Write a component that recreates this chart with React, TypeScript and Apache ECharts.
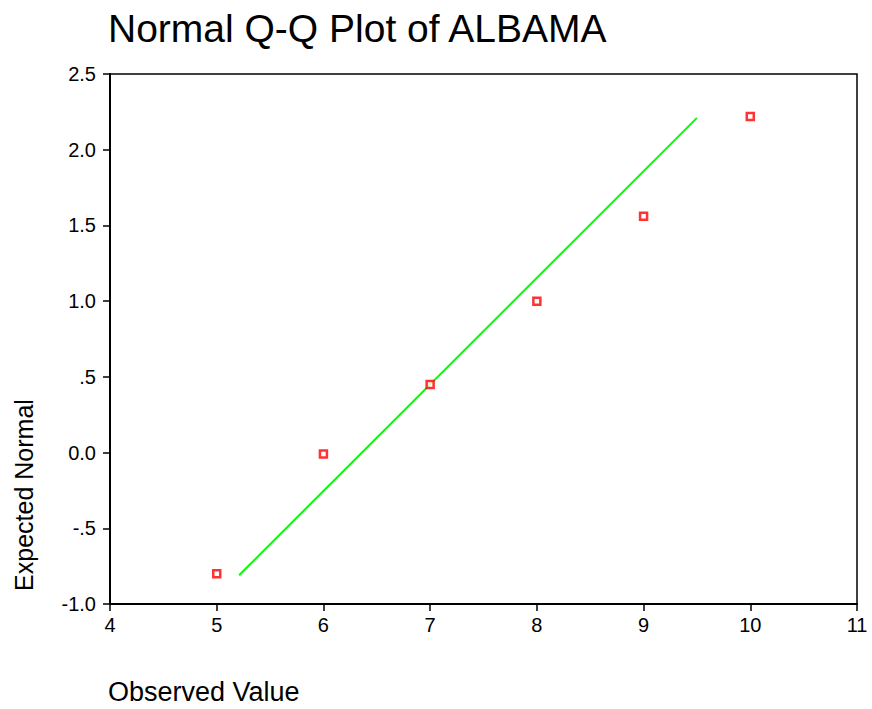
import React, { useEffect, useRef } from "react";
import * as echarts from "echarts";

// Observed values and their expected normal quantiles
const observed = [5, 6, 7, 8, 9, 10];
const expectedNormal = [-0.8, -0.01, 0.45, 1.0, 1.56, 2.22];

// Reference line endpoints
const refLineX = [5.21, 9.5];
const refLineY = [-0.81, 2.21];

const titleText = "Normal Q-Q Plot of ALBAMA";
const xAxisTitle = "Observed Value";
const yAxisTitle = "Expected Normal";

const FONT = "'Liberation Sans', Arial, Helvetica, sans-serif";

function formatY(v: number): string {
  if (v === 0.5) return ".5";
  if (v === -0.5) return "-.5";
  return v.toFixed(1);
}

export default function App() {
  const ref = useRef<HTMLDivElement>(null);

  useEffect(() => {
    if (!ref.current) return;
    const chart = echarts.init(ref.current, null, { renderer: "svg" });
    chart.setOption({
      animation: false,
      backgroundColor: "#ffffff",
      textStyle: { fontFamily: FONT },
      title: {
        text: titleText,
        left: 103,
        top: 4,
        textStyle: { fontFamily: FONT, fontSize: 39, fontWeight: "normal", color: "#000" },
      },
      grid: {
        left: 110,
        right: 15,
        top: 74,
        bottom: 105,
        show: true,
        borderColor: "#000",
        borderWidth: 1.5,
        backgroundColor: "transparent",
      },
      xAxis: {
        type: "value",
        min: 4,
        max: 11,
        interval: 1,
        axisLine: { show: true, onZero: false, lineStyle: { color: "#000", width: 2 } },
        axisTick: { show: true, length: 7, lineStyle: { color: "#000", width: 1.5 } },
        axisLabel: { fontFamily: FONT, fontSize: 20, color: "#000", margin: 11 },
        splitLine: { show: false },
      },
      yAxis: {
        type: "value",
        min: -1,
        max: 2.5,
        interval: 0.5,
        axisLine: { show: true, onZero: false, lineStyle: { color: "#000", width: 2 } },
        axisTick: { show: true, length: 7, lineStyle: { color: "#000", width: 1.5 } },
        axisLabel: {
          fontFamily: FONT,
          fontSize: 20,
          color: "#000",
          margin: 14,
          formatter: formatY,
        },
        splitLine: { show: false },
      },
      series: [
        {
          type: "line",
          data: refLineX.map((x, i) => [x, refLineY[i]]),
          showSymbol: false,
          symbol: "none",
          lineStyle: { color: "#00ff00", width: 2 },
          z: 2,
        },
        {
          type: "scatter",
          data: observed.map((x, i) => [x, expectedNormal[i]]),
          symbol: "rect",
          symbolSize: 7,
          itemStyle: { color: "#ffffff", borderColor: "#ff0000", borderWidth: 2.5 },
          z: 3,
        },
      ],
      graphic: [
        {
          type: "text",
          left: 108,
          top: 678,
          style: { text: xAxisTitle, fontFamily: FONT, fontSize: 27, fill: "#000" },
        },
        {
          type: "text",
          x: 24,
          y: 495,
          rotation: Math.PI / 2,
          style: {
            text: yAxisTitle,
            fontFamily: FONT,
            fontSize: 25,
            fill: "#000",
            align: "center",
            verticalAlign: "middle",
          },
        },
      ],
    });
    return () => chart.dispose();
  }, []);

  return <div ref={ref} style={{ width: 872, height: 709, position: "absolute", left: 0, top: 0 }} />;
}
